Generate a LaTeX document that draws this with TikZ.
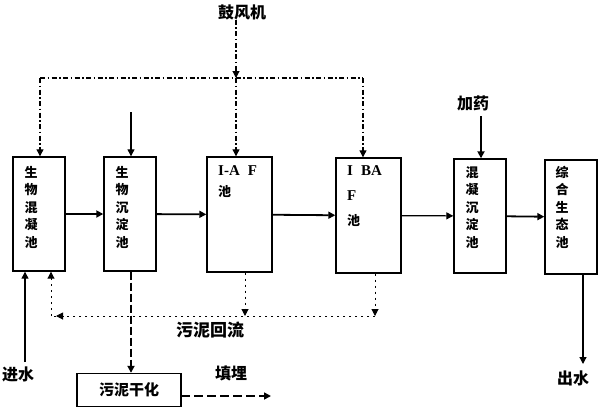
\documentclass[tikz,border=0pt]{standalone}
\usepackage{fontspec}
\setmainfont{Liberation Serif}
\newfontfamily\cjk{Noto Sans CJK SC}
\usetikzlibrary{arrows.meta}
\begin{document}
\begin{tikzpicture}[x=1pt,y=-1pt,
 box/.style={draw,line width=1.4pt,inner sep=0pt},
 tip/.style={-{Triangle[length=7pt,width=7pt]}},
 flow/.style={line width=1.8pt,tip},
 thin/.style={line width=1.2pt,tip},
 air/.style={line width=1.1pt,dash pattern=on 5pt off 2.5pt on 1.5pt off 2.5pt},
 ret/.style={line width=1pt,dash pattern=on 2pt off 4pt},
 sl/.style={line width=2pt,dash pattern=on 8pt off 3pt},
 vt/.style={font=\cjk\bfseries\fontsize{13}{17.5}\selectfont,align=center,inner sep=0pt,anchor=north},
 lt/.style={font=\bfseries\fontsize{15}{21}\selectfont,align=left,inner sep=0pt,anchor=north west},
 lbl/.style={font=\cjk\bfseries\fontsize{16}{16}\selectfont,inner sep=0pt}]
\useasboundingbox (0,0) rectangle (599,410);
% boxes
\node[box,minimum width=52pt,minimum height=114pt] (b1) at (39,214) {};
\node[box,minimum width=52pt,minimum height=114pt] (b2) at (130,214) {};
\node[box,minimum width=65pt,minimum height=115pt] (b3) at (239.5,214.5) {};
\node[box,minimum width=65pt,minimum height=115pt] (b4) at (368.5,215.5) {};
\node[box,minimum width=52pt,minimum height=114pt] (b5) at (480,216) {};
\node[box,minimum width=52pt,minimum height=114pt] (b6) at (571,217) {};
\node[box,minimum width=104pt,minimum height=33pt,font=\cjk\bfseries\fontsize{15}{15}\selectfont] (dry) at (129,390) {污泥干化};
% box texts
\node[vt] (t1) at (31,166) {生\\物\\混\\凝\\池};
\node[vt] (t2) at (122,166) {生\\物\\沉\\淀\\池};
\node[lt] (t3) at (218,165) {I-A\hspace{8pt}F\\{\cjk\fontsize{13}{13}\selectfont 池}};
\node[lt,font=\bfseries\fontsize{15}{25}\selectfont] (t4) at (347,165) {I\hspace{8pt}BA\\F\\{\cjk\fontsize{13}{13}\selectfont 池}};
\node[vt] (t5) at (472,166) {混\\凝\\沉\\淀\\池};
\node[vt] (t6) at (562,166) {综\\合\\生\\态\\池};
% labels
\node[lbl] (blower) at (242,12) {鼓风机};
\node[lbl] (dose) at (473,103) {加药};
\node[lbl,font=\cjk\bfseries\fontsize{17}{17}\selectfont] (rlbl) at (210,330) {污泥回流};
\node[lbl] (inw) at (18,374) {进水};
\node[lbl] (land) at (231,373) {填埋};
\node[lbl] (outw) at (573,378) {出水};
% air lines
\coordinate (bj) at (236,78);
\coordinate (c1) at (40,78);
\coordinate (c4) at (363,78);
\draw[air,tip] (bj |- blower.south) -- (bj);
\draw[air] (c1) -- (c4);
\draw[air,tip] (c1) -- (c1 |- b1.north);
\draw[air,tip] (bj) -- (bj |- b3.north);
\draw[air,tip] (c4) -- (c4 |- b4.north);
% inputs from top
\coordinate (in2) at (131,112);
\draw[thin] (in2) -- (in2 |- b2.north);
\coordinate (in5) at (481,116);
\draw[flow] (in5) -- (in5 |- b5.north);
% main flow
\draw[flow] (b1) -- (b2);
\draw[flow] (b2) -- (b3);
\draw[flow] (b3) -- (b4);
\draw[thin] (b4) -- (b5);
\draw[flow] (b5) -- (b6);
% sludge return
\coordinate (r3) at (245,316);
\coordinate (r4) at (375,316);
\coordinate (rl) at (56,316);
\coordinate (rc) at (51,316);
\draw[ret,tip] (r3 |- b3.south) -- (r3);
\draw[ret,tip] (r4 |- b4.south) -- (r4);
\draw[ret,tip] (r4) -- (rl);
\draw[ret] (rl) -- (rc);
\draw[ret,tip] (rc) -- (rc |- b1.south);
% sludge to drying
\coordinate (s2) at (131,272);
\draw[sl,tip] (s2 |- b2.south) -- (s2 |- dry.north);
\coordinate (d1) at (181,396);
\coordinate (d2) at (271,396);
\draw[line width=1.6pt,dash pattern=on 9pt off 4pt,tip] (d1) -- (d2);
% inflow and outflow
\coordinate (iw) at (25,362);
\draw[thin] (iw) -- (iw |- b1.south);
\coordinate (ow) at (583,364);
\draw[thin] (ow |- b6.south) -- (ow);
\end{tikzpicture}
\end{document}
